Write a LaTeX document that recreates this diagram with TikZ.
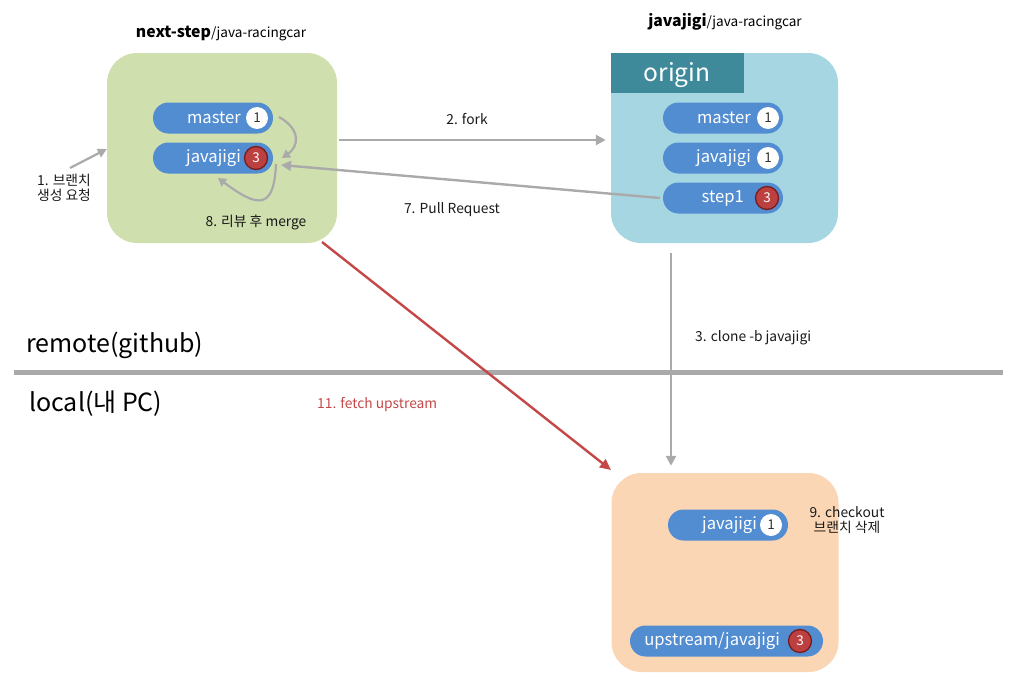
\documentclass[tikz,border=0pt]{standalone}
\usepackage{fontspec}
\setmainfont{Noto Sans CJK KR}
\usetikzlibrary{arrows.meta}
\definecolor{greenbox}{RGB}{207,223,174}
\definecolor{bluebox}{RGB}{166,214,226}
\definecolor{tabteal}{RGB}{62,138,155}
\definecolor{orangebox}{RGB}{251,214,180}
\definecolor{pillblue}{RGB}{82,141,210}
\definecolor{badgered}{RGB}{188,64,64}
\definecolor{badgeedge}{RGB}{120,28,28}
\definecolor{linegray}{RGB}{170,170,170}
\definecolor{fetchred}{RGB}{196,72,72}
\definecolor{txt}{RGB}{25,25,25}
\begin{document}
\begin{tikzpicture}[x=1pt,y=-1pt,
  box/.style={rounded corners=30pt, inner sep=0pt},
  pill/.style={fill=pillblue, rounded corners=15.5pt, minimum height=31pt, inner sep=0pt},
  pilltext/.style={text=white, font=\fontsize{16.6}{19}\selectfont, anchor=east, inner sep=0pt},
  wbadge/.style={circle, fill=white, minimum size=22pt, inner sep=0pt, text=black!80, font=\fontsize{13.5}{15}\selectfont},
  rbadge/.style={circle, fill=badgered, draw=badgeedge, line width=1.3pt, minimum size=23pt, inner sep=0pt, text=white, font=\fontsize{13.5}{15}\selectfont},
  lbl/.style={text=txt, font=\fontsize{13.8}{15}\selectfont, align=center, inner sep=0pt},
  garrow/.style={draw=linegray, line width=2.6pt, -{Triangle[length=10pt,width=10pt]}},
  gcurve/.style={draw=linegray, line width=2.2pt, -{Triangle[length=8pt,width=9pt]}},
]
\useasboundingbox (0,0) rectangle (1013,688);

% boxes
\node[box, fill=greenbox, minimum width=230pt, minimum height=190pt] (ns) at (222,148) {};
\node[box, fill=bluebox, minimum width=227pt, minimum height=190pt] (jj) at (724.5,148) {};
\node[fill=tabteal, minimum width=133pt, minimum height=40pt, inner sep=0pt, anchor=north west] (tab) at (611,53) {};
\node[text=white, font=\fontsize{24.5}{28}\selectfont, inner sep=0pt] (origin) at (677,75) {origin};
\node[box, fill=orangebox, minimum width=227pt, minimum height=199pt] (lc) at (725,572.5) {};

% titles
\node[text=black, inner sep=0pt] (t1) at (221,34) {\fontsize{15.8}{18}\selectfont\bfseries next-step\fontsize{13.6}{16}\selectfont\mdseries /java-racingcar};
\node[text=black, inner sep=0pt] (t2) at (725,22) {\fontsize{15.8}{18}\selectfont\bfseries javajigi\fontsize{13.6}{16}\selectfont\mdseries /java-racingcar};

% green box pills
\node[pill, minimum width=120pt] (nm) at (213,118) {};
\node[pilltext] (nmt) at (241,118) {master};
\node[wbadge] (nmb) at (257,118) {1};
\node[pill, minimum width=120pt] (nj) at (213,158) {};
\node[pilltext] (njt) at (241,158) {javajigi};
\node[rbadge] (njb) at (256,158) {3};

% blue box pills
\node[pill, minimum width=120pt] (om) at (723,118) {};
\node[pilltext] (omt) at (751,118) {master};
\node[wbadge] (omb) at (768,118) {1};
\node[pill, minimum width=120pt] (oj) at (723,158) {};
\node[pilltext] (ojt) at (751,158) {javajigi};
\node[wbadge] (ojb) at (768,158) {1};
\node[pill, minimum width=120pt] (os) at (723,198) {};
\node[pilltext] (ost) at (744,198) {step1};
\node[rbadge] (osb) at (767,198) {3};

% local pills
\node[pill, minimum width=120pt] (lj) at (728,525) {};
\node[pilltext] (ljt) at (757,525) {javajigi};
\node[wbadge] (ljb) at (771,525) {1};
\node[pill, minimum width=193pt] (lu) at (726.5,641) {};
\node[pilltext] (lut) at (780,641) {upstream/javajigi};
\node[rbadge] (lub) at (800,641) {3};

% divider
\coordinate (dl) at (14,372);
\coordinate (dr) at (1003,372);
\draw[linegray, line width=5pt] (dl) -- (dr);
\node[text=black, font=\fontsize{25}{29}\selectfont, anchor=west, inner sep=0pt] (remote) at (26,345) {remote(github)};
\node[text=black, font=\fontsize{25}{29}\selectfont, anchor=west, inner sep=0pt] (local) at (29,404) {local(내 PC)};

% 1. branch request
\coordinate (a1s) at (70,168);
\draw[garrow, line width=2.2pt, -{Triangle[length=9pt,width=9pt]}] (a1s) -- (ns.west |- 0,149);
\node[lbl] (l1) at (64,188) {1. 브랜치\\생성 요청};

% 2. fork
\draw[garrow] ([xshift=2pt]ns.east |- 0,140) -- ([xshift=-5pt]jj.west |- 0,140);
\node[lbl] (l2) at (467,119) {2. fork};

% 7. pull request
\draw[garrow, line width=2.4pt] ([xshift=-3pt]os.west) -- (281,165);
\node[lbl] (l7) at (452,210) {7. Pull Request};

% merge curves
\draw[gcurve] (279,117) .. controls (302,130) and (298,147) .. (282,158);
\draw[gcurve] (276,164) .. controls (274,210) and (258,208) .. (218,178);
\node[lbl] (l8) at (256,222) {8. 리뷰 후 merge};

% 3. clone
\draw[garrow] ([xshift=-53.5pt,yshift=-10pt]jj.south) -- ([xshift=-54pt,yshift=7pt]lc.north);
\node[lbl, anchor=west] (l3) at (695,338) {3. clone -b javajigi};

% 11. fetch upstream
\draw[draw=fetchred, line width=2.4pt, -{Triangle[length=11pt,width=10pt]}] (322,242) -- (611,470);
\node[lbl, text=fetchred, anchor=west] (l11) at (317,404) {11. fetch upstream};

% 9. checkout
\node[lbl] (l9) at (847,520) {9. checkout\\브랜치 삭제};
\end{tikzpicture}
\end{document}
